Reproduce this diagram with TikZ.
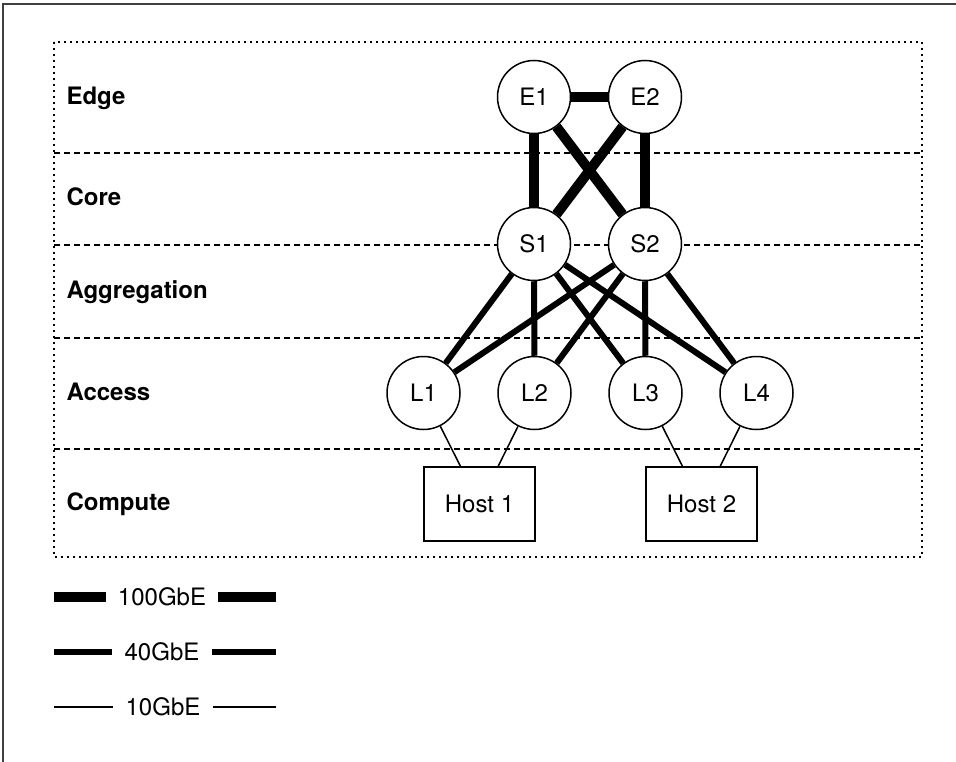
\documentclass[tikz,border=0pt]{standalone}
\usepackage{fontspec}
\setmainfont{TeX Gyre Heros}
\usepackage{tikz}
\usetikzlibrary{positioning}

\begin{document}
\begin{tikzpicture}[x=1pt, y=-1pt,
    every node/.style={font=\fontsize{24}{28}\selectfont},
    sw/.style={circle, draw, fill=white, line width=1.5pt, minimum size=73pt, inner sep=0pt},
    host/.style={rectangle, draw, fill=white, line width=1.5pt, minimum width=111pt, minimum height=74pt},
    layer/.style={anchor=base west, font=\fontsize{24}{28}\selectfont\bfseries},
    legend/.style={inner xsep=12pt, inner ysep=0pt},
    ge100/.style={line width=10pt},
    ge40/.style={line width=6pt},
    ge10/.style={line width=1.5pt}]
          \useasboundingbox (0,0) rectangle (956,762);
          \draw [line width=1.5pt, black!75] (3,762) -- (3,4) -- (956,4);
          % layers
          \draw [line width=2pt, dash pattern=on 2pt off 4pt] (54,42) rectangle (922,557);
          \foreach \y in {153, 245, 338, 449}{
            \draw [line width=1.5pt, dash pattern=on 6pt off 4pt] (54,\y) -- (922,\y);
          }
          \node [layer] (edge) at (63,104.5) {Edge};
          \node [layer] (core) at (63,206) {Core};
          \node [layer] (aggr) at (63,298.5) {Aggregation};
          \node [layer] (access) at (63,400.5) {Access};
          \node [layer] (compute) at (63,510) {Compute};
          % switches and hosts
          \node [sw] (E1) at (534,97) {E1};
          \node [sw] (E2) at (645,97) {E2};
          \node [sw] (S1) at (534,244) {S1};
          \node [sw] (S2) at (645,244) {S2};
          \node [sw] (L1) at (423.5,393) {L1};
          \node [sw] (L2) at (534.5,393) {L2};
          \node [sw] (L3) at (645.5,393) {L3};
          \node [sw] (L4) at (756.5,393) {L4};
          \node [host] (H1) at (479.5,504) {Host 1};
          \node [host] (H2) at (701.5,504) {Host 2};
          % links
          \draw [ge100] (E1) -- (E2);
          \foreach \s in {E1, E2}{
            \foreach \t in {S1, S2}{
              \draw [ge100] (\s) -- (\t);
            }
          }
          \foreach \s in {S1, S2}{
            \foreach \t in {L1, L2, L3, L4}{
              \draw [ge40] (\s) -- (\t);
            }
          }
          \draw [ge10] (L1) -- (H1);
          \draw [ge10] (L2) -- (H1);
          \draw [ge10] (L3) -- (H2);
          \draw [ge10] (L4) -- (H2);
          % legend
          \node [legend] (k100) at (162,597) {100GbE};
          \node [legend] (k40) at (162,652) {40GbE};
          \node [legend] (k10) at (163,707) {10GbE};
          \coordinate (k100a) at (54,597);
          \coordinate (k100b) at (276,597);
          \coordinate (k40a) at (54,652);
          \coordinate (k40b) at (276,652);
          \coordinate (k10a) at (54,707);
          \coordinate (k10b) at (276,707);
          \draw [ge100] (k100a) -- (k100.west);
          \draw [ge100] (k100.east) -- (k100b);
          \draw [ge40] (k40a) -- (k40.west);
          \draw [ge40] (k40.east) -- (k40b);
          \draw [ge10] (k10a) -- (k10.west);
          \draw [ge10] (k10.east) -- (k10b);
        \end{tikzpicture}
\end{document}
